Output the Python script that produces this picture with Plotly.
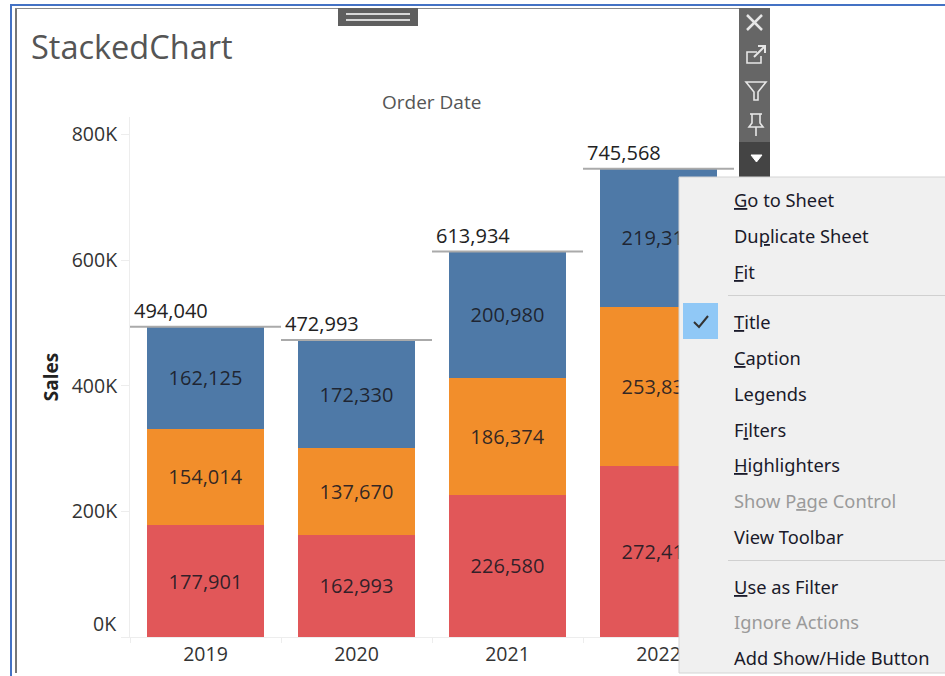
import plotly.graph_objects as go

years = ["2019", "2020", "2021", "2022"]
west = [162125, 172330, 200980, 219317]
east = [154014, 137670, 186374, 253838]
central = [177901, 162993, 226580, 272413]
totals = [494040, 472993, 613934, 745568]
y_ticks = [0, 200000, 400000, 600000, 800000]
y_tick_labels = ["", "200K", "400K", "600K", "800K"]
menu_items = ["<u>G</u>o to Sheet", "Du<u>p</u>licate Sheet", "<u>F</u>it", "<u>T</u>itle", "<u>C</u>aption",
              "Legends", "F<u>i</u>lters", "<u>H</u>ighlighters", "Show P<u>a</u>ge Control", "View Toolbar",
              "<u>U</u>se as Filter", "I<u>g</u>nore Actions", "Add Show/Hide Button"]
menu_y = [200, 236, 272, 322, 358, 394, 430, 465, 501, 537, 587, 622, 658]
menu_disabled = ["Show P<u>a</u>ge Control", "I<u>g</u>nore Actions"]

# plot area in window pixels
L, R, T, B = 130, 734, 117, 637
W, H = 945, 676
def px(x): return (x - L) / (R - L)
def py(y): return (B - y) / (B - T)
def path(pts, close=False):
    s = "M " + " L ".join(f"{px(x):.5f},{py(y):.5f}" for x, y in pts)
    return s + (" Z" if close else "")

idx = list(range(len(years)))
label_off = 0.5 / 151
fig = go.Figure()
text_font = dict(family="Open Sans", size=20, color="rgba(25,25,35,0.9)")
for name, vals, col in [("Central", central, "#E15759"), ("East", east, "#F28E2B"), ("West", west, "#4E79A7")]:
    fig.add_trace(go.Bar(x=idx, y=vals, name=name, width=0.775, marker=dict(color=col, line=dict(width=0)),
                         text=[f"{v:,}" for v in vals], textposition="inside", insidetextanchor="middle",
                         textangle=0, insidetextfont=text_font, constraintext="none"))
fig.add_trace(go.Scatter(x=[i - 0.5 + label_off for i in idx], y=totals, mode="text+markers", name="Total",
                         marker=dict(size=4, opacity=0),
                         text=[f"{v:,}" for v in totals], textposition="top right",
                         textfont=dict(family="Open Sans", size=20, color="#222"), cliponaxis=False,
                         error_x=dict(type="data", symmetric=False, array=[1 - label_off] * 4, arrayminus=[label_off] * 4,
                                      width=0, thickness=2, color="#AAAAAA")))

shapes, ann = [], []
def rect(x0, y0, x1, y1, fill, line=None):
    shapes.append(dict(type="rect", xref="paper", yref="paper", layer="above", x0=px(x0), x1=px(x1), y0=py(y0), y1=py(y1),
                       fillcolor=fill, line=dict(width=1 if line else 0, color=line or fill)))
def stroke(pts, color="#E6E6E6", w=2, close=False, fill=None):
    shapes.append(dict(type="path", xref="paper", yref="paper", layer="above", path=path(pts, close),
                       line=dict(color=color, width=w), fillcolor=fill or "rgba(0,0,0,0)"))

# frame
rect(10, 4, 945, 6, "#4472C4")
rect(10, 4, 12, 676, "#4472C4")
rect(15, 8, 17, 673, "#777777")
rect(15, 8, 740, 9, "#8A8A8A")
# drag handle
rect(338, 8, 418, 26, "#5F5F5F")
rect(346, 13, 410, 15, "#D8D8D8")
rect(346, 19, 410, 21, "#D8D8D8")
# toolbar
rect(739, 8, 770, 143, "#666666")
rect(739, 142, 770, 177, "#444444")
stroke([(747, 15), (762, 30)], w=2.5)
stroke([(762, 15), (747, 30)], w=2.5)
stroke([(757, 52), (747, 52), (747, 63), (761, 63), (761, 56)], w=1.6)
stroke([(754, 57), (764, 47)], w=2)
stroke([(758, 46), (765, 46), (765, 53)], w=2)
stroke([(746, 82), (766, 82), (758, 92), (758, 100), (754, 100), (754, 92)], w=1.6, close=True)
stroke([(750, 114), (762, 114)], w=1.6)
stroke([(752, 114), (752, 123), (749, 127), (763, 127), (760, 123), (760, 114)], w=1.6)
stroke([(756, 127), (756, 136)], w=1.6)
stroke([(751, 155), (762, 155), (756.5, 162)], w=1, close=True, color="#FFFFFF", fill="#FFFFFF")
# menu
rect(679, 177, 946, 673, "#F0F0F0", "#D4D4D4")
rect(728, 295, 945, 296, "#D0D0D0")
rect(728, 560, 945, 561, "#D0D0D0")
rect(683, 303, 718, 339, "#90C8F6")
stroke([(694, 322), (699, 327), (708, 316)], color="#333333", w=2)

for item, y in zip(menu_items, menu_y):
    ann.append(dict(xref="paper", yref="paper", x=px(732), y=py(y - 1), text=item, showarrow=False, xanchor="left", yanchor="middle",
                    font=dict(family="Noto Sans", size=18.3, color="#9A9A9A" if item in menu_disabled else "#1A1A2A")))
ann.append(dict(xref="paper", yref="paper", x=px(431), y=py(102), text="Order Date", showarrow=False, xanchor="center", yanchor="middle",
                font=dict(family="Open Sans", size=19, color="#555555")))
# the 0K label sits above its tick in the reference
ann.append(dict(xref="paper", yref="y", x=px(118), y=y_ticks[0], yshift=14, text="0K", showarrow=False, xanchor="right", yanchor="middle",
                font=dict(family="Open Sans", size=19.5, color="#333333")))

axis_col = "#EDEDED"
fig.update_layout(
    width=W, height=H, autosize=False, margin=dict(l=L, r=W - R, t=T, b=H - B, autoexpand=False),
    paper_bgcolor="white", plot_bgcolor="white", barmode="stack", showlegend=False,
    title=dict(text="StackedChart", x=31 / W, xref="container", xanchor="left",
               y=1 - 48 / H, yanchor="middle", font=dict(family="Open Sans", size=32.5, color="#555555")),
    xaxis=dict(range=[-0.5, 3.5], tickmode="array", tickvals=idx, ticktext=years, ticks="", showgrid=False, zeroline=False,
               automargin=False,
               showline=True, linecolor=axis_col, linewidth=1, tickfont=dict(family="Open Sans", size=19.5, color="#333333"),
               minor=dict(tickmode="array", tickvals=[i - 0.5 for i in idx] + [3.5], ticks="outside", ticklen=5, tickcolor=axis_col, showgrid=False)),
    yaxis=dict(range=[0, (B - T) / 0.628 * 1000], tickmode="array", tickvals=y_ticks, ticktext=y_tick_labels, ticks="outside", ticklen=8,
               automargin=False,
               tickcolor=axis_col, showgrid=False, zeroline=False, showline=True, linecolor=axis_col, linewidth=1,
               tickfont=dict(family="Open Sans", size=19.5, color="#333333"),
               title=dict(text="<b>Sales</b>", standoff=8, font=dict(family="Open Sans", size=19, color="#222222"))),
    shapes=shapes, annotations=ann,
)
fig.write_html("out.html", config=dict(displayModeBar=False),
               post_script="document.body.style.margin='0';document.body.style.overflow='hidden';")
